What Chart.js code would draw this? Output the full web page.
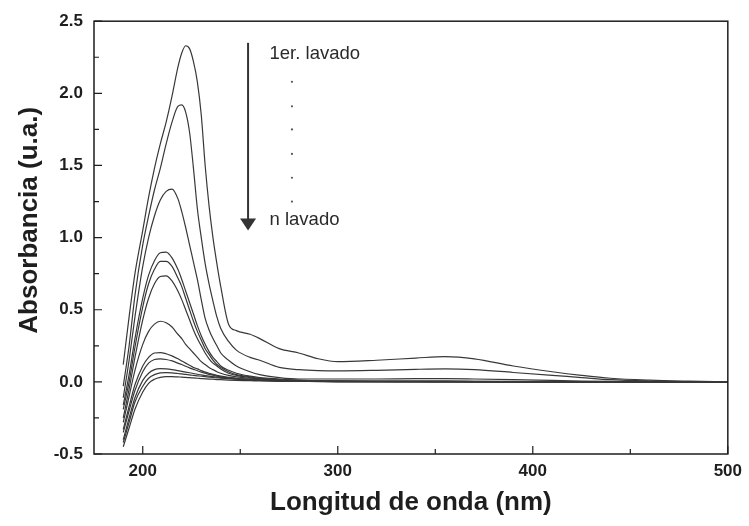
<!DOCTYPE html>
<html>
<head>
<meta charset="utf-8">
<script src="https://cdn.jsdelivr.net/npm/chart.js@4/dist/chart.umd.min.js"></script>
<style>
  html, body { margin: 0; padding: 0; background: #fff; }
  #wrap { width: 749px; height: 526px; }
</style>
</head>
<body>
<div id="wrap"><canvas id="uvChart" width="749" height="526"></canvas></div>
<script>
// wavelength grid (nm) shared by every spectrum
const wavelengths = [190, 193, 196, 200, 203, 206, 209, 212, 215, 218, 220, 222, 224, 226, 228, 230, 232, 234, 236, 238, 240, 244, 248, 255, 260, 270, 280, 290, 300, 320, 340, 355, 370, 390, 410, 425, 440, 460, 480, 500];

// absorbance per washing, 1st wash -> n-th wash
const wash01 = [0.12, 0.45, 0.75, 1.05, 1.28, 1.48, 1.65, 1.80, 1.98, 2.18, 2.28, 2.33, 2.31, 2.22, 2.08, 1.85, 1.50, 1.22, 1.00, 0.82, 0.66, 0.40, 0.355, 0.33, 0.30, 0.23, 0.20, 0.16, 0.14, 0.15, 0.165, 0.175, 0.16, 0.11, 0.07, 0.045, 0.025, 0.012, 0.005, 0.0];
const wash02 = [-0.03, 0.25, 0.60, 0.95, 1.15, 1.33, 1.48, 1.65, 1.80, 1.91, 1.92, 1.87, 1.73, 1.48, 1.20, 1.00, 0.82, 0.68, 0.56, 0.45, 0.37, 0.28, 0.22, 0.17, 0.15, 0.10, 0.085, 0.078, 0.076, 0.08, 0.087, 0.09, 0.085, 0.065, 0.045, 0.03, 0.015, 0.006, 0.002, 0.0];
const wash03 = [-0.11, 0.15, 0.45, 0.80, 1.00, 1.15, 1.26, 1.32, 1.336, 1.27, 1.18, 1.07, 0.95, 0.83, 0.71, 0.57, 0.44, 0.36, 0.30, 0.25, 0.20, 0.15, 0.11, 0.07, 0.05, 0.03, 0.02, 0.02, 0.02, 0.02, 0.022, 0.022, 0.02, 0.016, 0.01, 0.006, 0.003, 0.001, 0.0, 0.0];
const wash04 = [-0.16, 0.05, 0.30, 0.58, 0.74, 0.84, 0.895, 0.90, 0.86, 0.78, 0.71, 0.63, 0.55, 0.47, 0.39, 0.32, 0.26, 0.21, 0.17, 0.14, 0.11, 0.08, 0.06, 0.04, 0.03, 0.02, 0.012, 0.008, 0.006, 0.005, 0.005, 0.005, 0.004, 0.003, 0.002, 0.001, 0.0, 0.0, 0.0, 0.0];
const wash05 = [-0.19, 0.0, 0.24, 0.52, 0.68, 0.78, 0.835, 0.835, 0.80, 0.72, 0.66, 0.58, 0.50, 0.42, 0.35, 0.29, 0.23, 0.19, 0.15, 0.12, 0.10, 0.07, 0.05, 0.035, 0.025, 0.015, 0.01, 0.007, 0.005, 0.004, 0.004, 0.004, 0.003, 0.002, 0.001, 0.0, 0.0, 0.0, 0.0, 0.0];
const wash06 = [-0.25, -0.05, 0.17, 0.43, 0.58, 0.68, 0.73, 0.735, 0.70, 0.63, 0.57, 0.50, 0.43, 0.36, 0.30, 0.25, 0.20, 0.16, 0.13, 0.11, 0.09, 0.06, 0.045, 0.03, 0.022, 0.013, 0.009, 0.006, 0.005, 0.004, 0.003, 0.003, 0.002, 0.002, 0.001, 0.0, 0.0, 0.0, 0.0, 0.0];
const wash07 = [-0.28, -0.10, 0.08, 0.26, 0.35, 0.40, 0.42, 0.41, 0.38, 0.33, 0.30, 0.26, 0.23, 0.20, 0.17, 0.14, 0.12, 0.10, 0.085, 0.07, 0.06, 0.045, 0.035, 0.025, 0.02, 0.012, 0.008, 0.006, 0.005, 0.004, 0.003, 0.003, 0.002, 0.001, 0.001, 0.0, 0.0, 0.0, 0.0, 0.0];
const wash08 = [-0.33, -0.17, -0.02, 0.11, 0.17, 0.20, 0.203, 0.195, 0.18, 0.16, 0.145, 0.13, 0.115, 0.10, 0.09, 0.078, 0.068, 0.06, 0.052, 0.045, 0.04, 0.032, 0.025, 0.018, 0.014, 0.009, 0.006, 0.004, 0.003, 0.002, 0.002, 0.002, 0.001, 0.001, 0.0, 0.0, 0.0, 0.0, 0.0, 0.0];
const wash09 = [-0.35, -0.20, -0.06, 0.07, 0.13, 0.155, 0.16, 0.155, 0.145, 0.13, 0.12, 0.108, 0.097, 0.087, 0.077, 0.068, 0.06, 0.052, 0.046, 0.04, 0.035, 0.028, 0.022, 0.016, 0.012, 0.008, 0.005, 0.003, 0.002, 0.002, 0.001, 0.001, 0.001, 0.0, 0.0, 0.0, 0.0, 0.0, 0.0, 0.0];
const wash10 = [-0.40, -0.25, -0.11, 0.01, 0.06, 0.085, 0.092, 0.09, 0.085, 0.078, 0.073, 0.068, 0.063, 0.058, 0.053, 0.048, 0.044, 0.04, 0.036, 0.033, 0.03, 0.025, 0.02, 0.015, 0.012, 0.008, 0.005, 0.003, 0.002, 0.001, 0.001, 0.001, 0.0, 0.0, 0.0, 0.0, 0.0, 0.0, 0.0, 0.0];
const wash11 = [-0.42, -0.28, -0.14, -0.03, 0.025, 0.05, 0.062, 0.064, 0.062, 0.058, 0.055, 0.052, 0.048, 0.045, 0.042, 0.039, 0.036, 0.033, 0.03, 0.028, 0.026, 0.022, 0.018, 0.013, 0.01, 0.007, 0.004, 0.003, 0.002, 0.001, 0.001, 0.0, 0.0, 0.0, 0.0, 0.0, 0.0, 0.0, 0.0, 0.0];
const wash12 = [-0.45, -0.32, -0.19, -0.07, -0.01, 0.018, 0.031, 0.036, 0.036, 0.034, 0.033, 0.031, 0.029, 0.027, 0.025, 0.023, 0.021, 0.019, 0.018, 0.016, 0.015, 0.012, 0.01, 0.008, 0.006, 0.004, 0.003, 0.002, 0.001, 0.001, 0.0, 0.0, 0.0, 0.0, 0.0, 0.0, 0.0, 0.0, 0.0, 0.0];

const washes = [wash01, wash02, wash03, wash04, wash05, wash06, wash07, wash08, wash09, wash10, wash11, wash12];

// axis ticks
const xTickVals = [200, 250, 300, 350, 400, 450, 500];
const xTickLabels = ['200', '', '300', '', '400', '', '500'];
const yTickVals = [-0.5, -0.25, 0, 0.25, 0.5, 0.75, 1.0, 1.25, 1.5, 1.75, 2.0, 2.25, 2.5];
const yTickLabels = ['-0.5', '', '0.0', '', '0.5', '', '1.0', '', '1.5', '', '2.0', '', '2.5'];

const INK = '#1e1e1e';
const FONT = '"Liberation Sans", Arial, sans-serif';

// frame, inward tick marks, y title and the washing arrow
const frameAndNotes = {
  id: 'frameAndNotes',
  afterDraw(chart) {
    const { ctx, chartArea: a, scales: { x, y } } = chart;
    ctx.save();
    ctx.strokeStyle = INK;
    ctx.lineWidth = 1.5;
    ctx.strokeRect(a.left, a.top, a.right - a.left, a.bottom - a.top);

    ctx.lineWidth = 1.2;
    ctx.beginPath();
    xTickVals.forEach((v, i) => {
      const px = x.getPixelForValue(v);
      const len = xTickLabels[i] ? 8 : 5;
      ctx.moveTo(px, a.bottom);
      ctx.lineTo(px, a.bottom - len);
    });
    yTickVals.forEach((v, i) => {
      const py = y.getPixelForValue(v);
      const len = yTickLabels[i] ? 8 : 5;
      ctx.moveTo(a.left, py);
      ctx.lineTo(a.left + len, py);
    });
    ctx.stroke();

    // y axis title, sits a bit above the middle like the original
    ctx.save();
    ctx.translate(30, y.getPixelForValue(1.12));
    ctx.rotate(-Math.PI / 2);
    ctx.fillStyle = INK;
    ctx.font = 'bold 26px ' + FONT;
    ctx.textAlign = 'center';
    ctx.textBaseline = 'middle';
    ctx.fillText('Absorbancia (u.a.)', 0, 0);
    ctx.restore();

    // arrow 1st -> n-th washing
    const ax = x.getPixelForValue(254);
    const aTop = y.getPixelForValue(2.35);
    const aTip = y.getPixelForValue(1.05);
    ctx.strokeStyle = '#333';
    ctx.lineWidth = 2;
    ctx.beginPath();
    ctx.moveTo(ax, aTop);
    ctx.lineTo(ax, aTip - 10);
    ctx.stroke();
    ctx.fillStyle = '#333';
    ctx.beginPath();
    ctx.moveTo(ax - 8, aTip - 12);
    ctx.lineTo(ax + 8, aTip - 12);
    ctx.lineTo(ax, aTip);
    ctx.closePath();
    ctx.fill();

    ctx.fillStyle = '#2a2a2a';
    ctx.font = '18.5px ' + FONT;
    ctx.textAlign = 'left';
    ctx.textBaseline = 'middle';
    ctx.fillText('1er. lavado', x.getPixelForValue(265), y.getPixelForValue(2.27));
    ctx.fillText('n lavado', x.getPixelForValue(265), y.getPixelForValue(1.12));

    ctx.fillStyle = '#555';
    [2.08, 1.91, 1.75, 1.58, 1.415, 1.25].forEach((v) => {
      ctx.beginPath();
      ctx.arc(x.getPixelForValue(276.5), y.getPixelForValue(v), 1.1, 0, Math.PI * 2);
      ctx.fill();
    });
    ctx.restore();
  },
};

const datasets = washes.map((vals, k) => ({
  label: 'lavado ' + (k + 1),
  data: wavelengths.map((w, i) => ({ x: w, y: vals[i] })),
  borderColor: '#383838',
  borderWidth: 1.2,
  pointRadius: 0,
  fill: false,
  cubicInterpolationMode: 'monotone',
}));

new Chart(document.getElementById('uvChart'), {
  type: 'line',
  data: { datasets },
  plugins: [frameAndNotes],
  options: {
    responsive: false,
    animation: false,
    events: [],
    layout: { padding: { top: 21, right: 20, left: 0, bottom: 0 } },
    plugins: { legend: { display: false }, tooltip: { enabled: false } },
    scales: {
      x: {
        type: 'linear',
        min: 175,
        max: 500,
        afterBuildTicks: (axis) => { axis.ticks = xTickVals.map((v) => ({ value: v })); },
        afterFit: (axis) => { axis.height = 72; },
        border: { display: false },
        grid: { display: false, drawTicks: false },
        ticks: {
          padding: 7,
          color: INK,
          font: { family: FONT, size: 17, weight: 'bold' },
          maxRotation: 0,
          callback: (v, i) => xTickLabels[i],
        },
        title: {
          display: true,
          text: 'Longitud de onda (nm)',
          color: INK,
          font: { family: FONT, size: 26, weight: 'bold' },
          padding: { top: 0, bottom: 8 },
        },
      },
      y: {
        type: 'linear',
        min: -0.5,
        max: 2.5,
        afterBuildTicks: (axis) => { axis.ticks = yTickVals.map((v) => ({ value: v })); },
        afterFit: (axis) => { axis.width = 94; },
        border: { display: false },
        grid: { display: false, drawTicks: false },
        ticks: {
          padding: 11,
          color: INK,
          font: { family: FONT, size: 17, weight: 'bold' },
          callback: (v, i) => yTickLabels[i],
        },
        title: { display: false },
      },
    },
  },
});
</script>
</body>
</html>
